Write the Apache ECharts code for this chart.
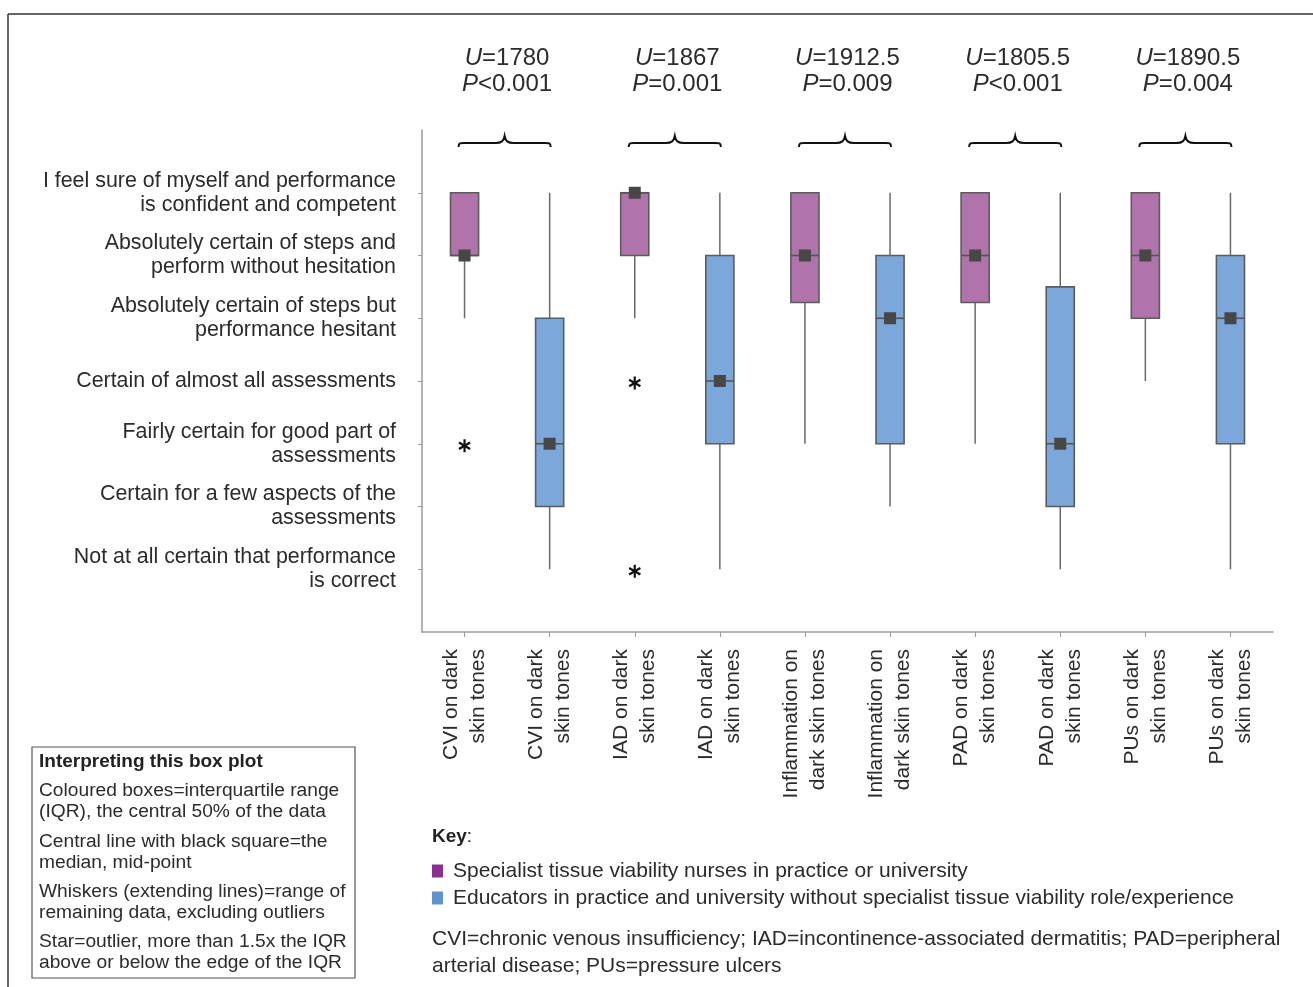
<!DOCTYPE html>
<html>
<head>
<meta charset="utf-8">
<script src="https://cdn.jsdelivr.net/npm/echarts@6/dist/echarts.min.js"></script>
<style>
  html, body { margin: 0; padding: 0; background: #fff; }
  #chart { width: 1313px; height: 987px; }
</style>
</head>
<body>
<div id="chart"></div>
<script>
// categories along the x axis (specialist, educator pairs)
const xKeys = ['CVI-S', 'CVI-E', 'IAD-S', 'IAD-E', 'INF-S', 'INF-E', 'PAD-S', 'PAD-E', 'PU-S', 'PU-E'];
const xLabels = [
  'CVI on dark\nskin tones', 'CVI on dark\nskin tones',
  'IAD on dark\nskin tones', 'IAD on dark\nskin tones',
  'Inflammation on\ndark skin tones', 'Inflammation on\ndark skin tones',
  'PAD on dark\nskin tones', 'PAD on dark\nskin tones',
  'PUs on dark\nskin tones', 'PUs on dark\nskin tones'
];

// confidence scale, level 1 (bottom) to 7 (top)
const yLabels = [
  'Not at all certain that performance\nis correct',
  'Certain for a few aspects of the\nassessments',
  'Fairly certain for good part of\nassessments',
  'Certain of almost all assessments',
  'Absolutely certain of steps but\nperformance hesitant',
  'Absolutely certain of steps and\nperform without hesitation',
  'I feel sure of myself and performance\nis confident and competent'
];

// [low whisker, Q1, median, Q3, high whisker] per condition
const specialistStats = [
  [5, 6, 6, 7, 7],
  [5, 6, 7, 7, 7],
  [3, 5.25, 6, 7, 7],
  [3, 5.25, 6, 7, 7],
  [4, 5, 6, 7, 7]
];
const educatorStats = [
  [1, 2, 3, 5, 7],
  [1, 3, 4, 6, 7],
  [2, 3, 5, 6, 7],
  [1, 2, 3, 5.5, 7],
  [1, 3, 5, 6, 7]
];

// outliers: [condition index, level]
const specialistOutliers = [[0, 3], [1, 4], [1, 1]];

// Mann-Whitney results per condition
const uValues = ['1780', '1867', '1912.5', '1805.5', '1890.5'];
const pValues = ['<0.001', '=0.001', '=0.009', '<0.001', '=0.004'];

const specialistName = 'Specialist tissue viability nurses in practice or university';
const educatorName = 'Educators in practice and university without specialist tissue viability role/experience';

const FONT = '"Liberation Sans", Arial, sans-serif';
const TEXT = '#2b2b2b';

const chart = echarts.init(document.getElementById('chart'));

function renderBox(params, api) {
  const x = api.value(0);
  const low = api.coord([x, api.value(1)]);
  const q1 = api.coord([x, api.value(2)]);
  const med = api.coord([x, api.value(3)]);
  const q3 = api.coord([x, api.value(4)]);
  const high = api.coord([x, api.value(5)]);
  const w = api.size([1, 0])[0] * 0.33;
  const cx = low[0];
  return {
    type: 'group',
    children: [
      { type: 'line', shape: { x1: cx, y1: low[1], x2: cx, y2: high[1] },
        style: { stroke: '#6a6a6a', lineWidth: 1.5 } },
      { type: 'rect', shape: { x: cx - w / 2, y: q3[1], width: w, height: q1[1] - q3[1] },
        style: { fill: api.visual('color'), stroke: '#5c5c5c', lineWidth: 1.6 } },
      { type: 'line', shape: { x1: cx - w / 2, y1: med[1], x2: cx + w / 2, y2: med[1] },
        style: { stroke: '#555', lineWidth: 1.6 } },
      { type: 'rect', shape: { x: cx - 6, y: med[1] - 6, width: 12, height: 12 },
        style: { fill: '#474747' } }
    ]
  };
}

function renderStar(params, api) {
  const p = api.coord([api.value(0), api.value(1)]);
  const r = 6.5;
  const arms = [];
  [90, 30, 150].forEach(function (deg) {
    const a = deg * Math.PI / 180;
    arms.push({ type: 'line',
      shape: { x1: p[0] - r * Math.cos(a), y1: p[1] + 2 - r * Math.sin(a),
               x2: p[0] + r * Math.cos(a), y2: p[1] + 2 + r * Math.sin(a) },
      style: { stroke: '#111', lineWidth: 2.2 } });
  });
  return { type: 'group', children: arms };
}

function renderBrace(params, api) {
  const i = params.dataIndex;
  const a = api.coord([api.value(0), api.value(2)]);
  const b = api.coord([api.value(1), api.value(2)]);
  const top = a[1];
  const x0 = a[0] - 6, x1 = b[0] + 1, xm = (x0 + x1) / 2;
  const yTip = top + 6, yFlat = top + 13, yEnd = top + 17;
  const path = 'M' + x0 + ' ' + yEnd +
    ' C' + x0 + ' ' + (yFlat - 1) + ' ' + (x0 + 2) + ' ' + yFlat + ' ' + (x0 + 10) + ' ' + yFlat +
    ' L' + (xm - 9) + ' ' + yFlat +
    ' C' + (xm - 3) + ' ' + yFlat + ' ' + (xm - 1) + ' ' + (yFlat - 2) + ' ' + xm + ' ' + yTip +
    ' C' + (xm + 1) + ' ' + (yFlat - 2) + ' ' + (xm + 3) + ' ' + yFlat + ' ' + (xm + 9) + ' ' + yFlat +
    ' L' + (x1 - 10) + ' ' + yFlat +
    ' C' + (x1 - 2) + ' ' + yFlat + ' ' + x1 + ' ' + (yFlat - 1) + ' ' + x1 + ' ' + yEnd;
  return {
    type: 'group',
    children: [
      { type: 'path', shape: { pathData: path },
        style: { fill: null, stroke: '#111', lineWidth: 2 } },
      { type: 'text', x: (a[0] + b[0]) / 2, y: top - 59,
        style: {
          text: '{i|U}=' + uValues[i] + '\n{i|P}' + pValues[i],
          fontFamily: FONT, fontSize: 24, lineHeight: 26, fill: TEXT,
          align: 'center', verticalAlign: 'middle',
          rich: { i: { fontStyle: 'italic', fontFamily: FONT, fontSize: 24, lineHeight: 26, fill: TEXT } }
        } }
    ]
  };
}

const specialistData = specialistStats.map(function (s, i) { return [2 * i].concat(s); });
const educatorData = educatorStats.map(function (s, i) { return [2 * i + 1].concat(s); });
const outlierData = specialistOutliers.map(function (o) { return [2 * o[0], o[1]]; });
const braceData = uValues.map(function (u, i) { return [2 * i, 2 * i + 1, 8]; });

const option = {
  animation: false,
  textStyle: { fontFamily: FONT },
  grid: { left: 422, right: 40, top: 130, bottom: 355 },
  xAxis: {
    type: 'category',
    data: xKeys,
    axisLine: { lineStyle: { color: '#9a9a9a', width: 1.5 } },
    axisTick: { show: true, alignWithLabel: true, length: 5, lineStyle: { color: '#9a9a9a' } },
    axisLabel: {
      interval: 0, rotate: 90, margin: 17,
      fontSize: 21, lineHeight: 27, color: TEXT, fontFamily: FONT,
      formatter: function (v, idx) { return xLabels[idx]; }
    }
  },
  yAxis: {
    type: 'value',
    min: 0, max: 8, interval: 1,
    splitLine: { show: false },
    axisLine: { show: true, lineStyle: { color: '#9a9a9a', width: 1.5 } },
    axisTick: { show: true, length: 4, customValues: [1, 2, 3, 4, 5, 6, 7], lineStyle: { color: '#9a9a9a' } },
    axisLabel: {
      margin: 26, fontSize: 21.4, lineHeight: 24, color: TEXT, fontFamily: FONT, align: 'right',
      customValues: [1, 2, 3, 4, 5, 6, 7],
      formatter: function (v) { return yLabels[v - 1] || ''; }
    }
  },
  legend: {
    orient: 'vertical',
    left: 432, top: 860, padding: 0,
    icon: 'rect', itemWidth: 11, itemHeight: 13, itemGap: 5,
    selectedMode: false,
    textStyle: { fontSize: 21, lineHeight: 22, color: TEXT, fontFamily: FONT, padding: [0, 0, 0, 5] },
    data: [
      { name: specialistName, itemStyle: { color: '#8a2f8f' } },
      { name: educatorName, itemStyle: { color: '#5f93cc' } }
    ]
  },
  series: [
    { name: specialistName, type: 'custom', renderItem: renderBox, data: specialistData,
      itemStyle: { color: '#b074ab' }, encode: { x: 0, y: [1, 2, 3, 4, 5] }, z: 3 },
    { name: educatorName, type: 'custom', renderItem: renderBox, data: educatorData,
      itemStyle: { color: '#7ba7da' }, encode: { x: 0, y: [1, 2, 3, 4, 5] }, z: 3 },
    { name: 'outliers', type: 'custom', renderItem: renderStar, data: outlierData,
      encode: { x: 0, y: 1 }, z: 4 },
    { name: 'tests', type: 'custom', renderItem: renderBrace, data: braceData,
      encode: { x: [0, 1], y: 2 }, clip: false, z: 4 }
  ],
  graphic: [
    // figure frame
    { type: 'line', shape: { x1: 8, y1: 14, x2: 1313, y2: 14 }, style: { stroke: '#333', lineWidth: 1.5 } },
    { type: 'line', shape: { x1: 8, y1: 14, x2: 8, y2: 987 }, style: { stroke: '#333', lineWidth: 1.5 } },
    // interpretation box
    { type: 'rect', shape: { x: 32, y: 747, width: 323, height: 231 },
      style: { fill: '#fff', stroke: '#555', lineWidth: 1.2 } },
    { type: 'text', x: 39, y: 762, style: { text: 'Interpreting this box plot', fontFamily: FONT,
      fontSize: 19, fontWeight: 'bold', fill: '#222', verticalAlign: 'middle' } },
    { type: 'text', x: 39, y: 780.5, style: { text: 'Coloured boxes=interquartile range\n(IQR), the central 50% of the data',
      fontFamily: FONT, fontSize: 19.2, lineHeight: 21, fill: TEXT, verticalAlign: 'top' } },
    { type: 'text', x: 39, y: 831.5, style: { text: 'Central line with black square=the\nmedian, mid-point',
      fontFamily: FONT, fontSize: 19.2, lineHeight: 21, fill: TEXT, verticalAlign: 'top' } },
    { type: 'text', x: 39, y: 881.5, style: { text: 'Whiskers (extending lines)=range of\nremaining data, excluding outliers',
      fontFamily: FONT, fontSize: 19.2, lineHeight: 21, fill: TEXT, verticalAlign: 'top' } },
    { type: 'text', x: 39, y: 931.5, style: { text: 'Star=outlier, more than 1.5x the IQR\nabove or below the edge of the IQR',
      fontFamily: FONT, fontSize: 19.2, lineHeight: 21, fill: TEXT, verticalAlign: 'top' } },
    // key
    { type: 'text', x: 432, y: 837, style: { text: '{b|Key}:', fontFamily: FONT, fontSize: 19, fill: '#222',
      verticalAlign: 'middle', rich: { b: { fontWeight: 'bold', fontFamily: FONT, fontSize: 19, fill: '#222' } } } },
    { type: 'text', x: 432, y: 926, style: {
      text: 'CVI=chronic venous insufficiency; IAD=incontinence-associated dermatitis; PAD=peripheral\narterial disease; PUs=pressure ulcers',
      fontFamily: FONT, fontSize: 21, lineHeight: 27, fill: TEXT, verticalAlign: 'top' } }
  ]
};

chart.setOption(option);
</script>
</body>
</html>
